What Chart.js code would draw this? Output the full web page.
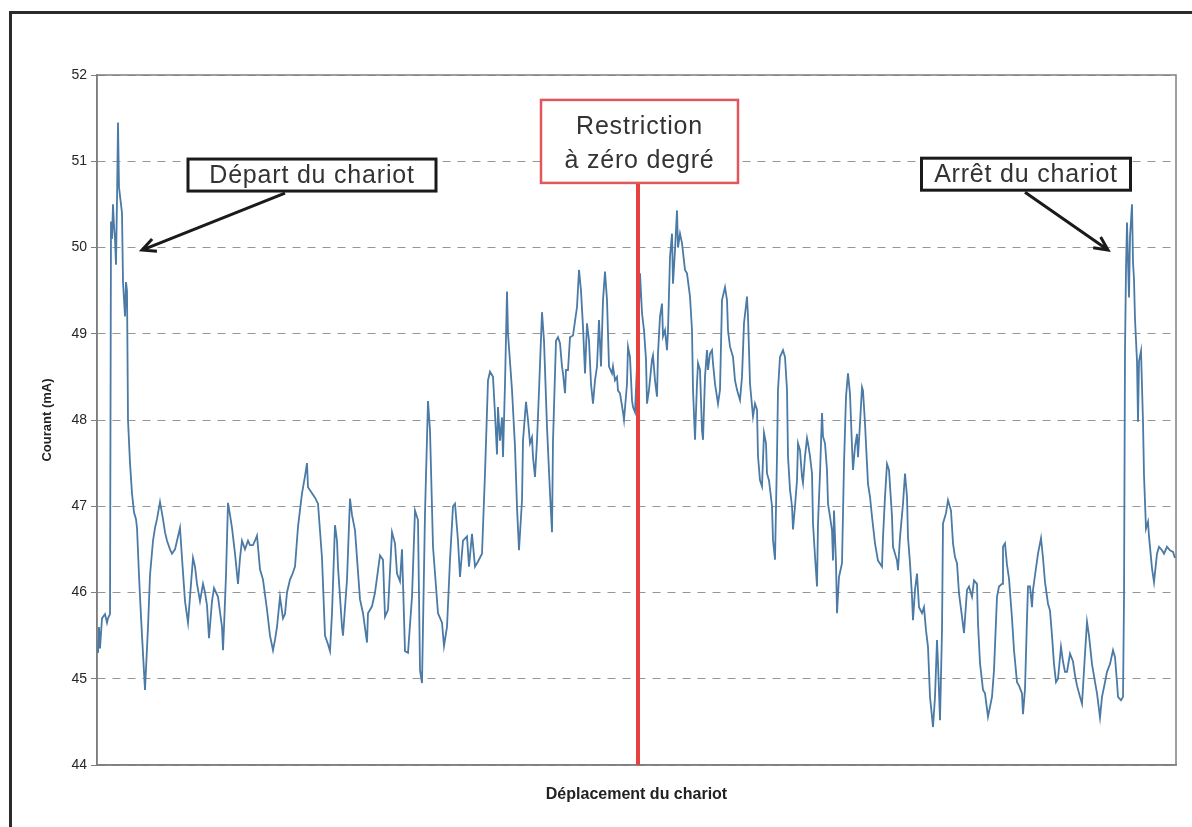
<!DOCTYPE html>
<html lang="fr">
<head>
<meta charset="utf-8">
<script src="https://cdn.jsdelivr.net/npm/chart.js@4/dist/chart.umd.min.js"></script>
<style>
  html, body { margin: 0; padding: 0; background: #fff; }
  #wrap { position: relative; width: 1192px; height: 827px; overflow: hidden; }
  #cadre { position: absolute; left: 9px; top: 11px; width: 1200px; height: 840px;
           border-top: 3px solid #2b2b2b; border-left: 3px solid #2b2b2b; }
  canvas { position: absolute; left: 0; top: 0; }
</style>
</head>
<body>
<div id="wrap">
  <div id="cadre"></div>
  <canvas id="chart" width="1192" height="827"></canvas>
</div>
<script>
// position du chariot (unités arbitraires) et courant mesuré (mA)
const deplacement = [
  1, 2, 3, 5, 8, 10, 11, 13, 14, 15, 16, 17, 18, 19, 20, 21, 22, 24, 25, 26,
  27, 28, 29, 30, 31, 33, 35, 37, 39, 40, 42, 43, 45, 48, 51, 53, 56, 58, 60, 63,
  66, 68, 70, 73, 75, 78, 80, 83, 85, 88, 91, 94, 96, 98, 100, 103, 106, 108, 110, 112,
  115, 117, 119, 121, 125, 126, 127, 129, 131, 133, 135, 138, 141, 143, 145, 148, 151, 153, 156, 158,
  160, 163, 166, 170, 173, 176, 178, 180, 183, 186, 188, 190, 193, 195, 198, 201, 205, 208, 210, 211,
  215, 218, 221, 225, 228, 231, 233, 235, 238, 240, 241, 245, 246, 250, 253, 255, 258, 263, 266, 270,
  271, 275, 278, 283, 286, 288, 291, 295, 298, 300, 303, 305, 308, 311, 315, 318, 321, 323, 325, 328,
  331, 333, 336, 341, 345, 347, 350, 353, 356, 358, 361, 363, 366, 370, 372, 375, 378, 381, 385, 388,
  391, 393, 396, 398, 400, 401, 403, 405, 406, 408, 410, 411, 415, 418, 420, 422, 425, 426, 429, 431,
  433, 435, 436, 438, 440, 442, 445, 447, 450, 453, 455, 456, 459, 461, 463, 465, 466, 468, 469, 471,
  473, 476, 480, 482, 484, 486, 488, 490, 492, 494, 496, 498, 500, 502, 504, 506, 508, 510, 512, 515,
  516, 518, 520, 521, 523, 526, 527, 530, 531, 533, 535, 536, 538, 541, 543, 545, 547, 549, 550, 552,
  555, 556, 558, 560, 561, 563, 565, 566, 568, 570, 571, 573, 575, 576, 578, 580, 581, 583, 585, 588,
  590, 593, 595, 596, 598, 600, 601, 603, 605, 606, 608, 610, 611, 613, 615, 616, 618, 621, 623, 625,
  628, 630, 631, 633, 636, 638, 640, 643, 645, 647, 650, 651, 653, 656, 658, 660, 661, 663, 665, 667,
  669, 670, 672, 675, 676, 678, 680, 681, 683, 686, 688, 690, 691, 693, 695, 696, 698, 700, 701, 703,
  705, 706, 708, 710, 711, 713, 715, 716, 718, 720, 721, 723, 725, 726, 728, 730, 731, 733, 735, 736,
  737, 739, 740, 742, 745, 747, 749, 751, 753, 755, 756, 758, 760, 761, 763, 765, 766, 768, 770, 771,
  773, 775, 778, 781, 785, 786, 788, 790, 792, 795, 796, 800, 801, 803, 806, 808, 810, 811, 813, 815,
  816, 818, 820, 822, 825, 827, 829, 831, 833, 835, 836, 838, 840, 841, 843, 845, 846, 849, 851, 854,
  856, 858, 860, 862, 865, 867, 870, 872, 875, 877, 880, 881, 883, 886, 888, 891, 895, 897, 900, 902,
  905, 906, 908, 910, 912, 915, 917, 920, 922, 925, 926, 928, 930, 931, 933, 935, 936, 938, 941, 944,
  946, 948, 951, 953, 955, 957, 959, 961, 964, 966, 968, 970, 973, 976, 978, 980, 983, 985, 988, 990,
  992, 995, 998, 1000, 1003, 1005, 1008, 1010, 1013, 1016, 1018, 1020, 1021, 1024, 1026, 1027, 1028, 1029, 1030, 1032,
  1033, 1035, 1036, 1037, 1038, 1040, 1041, 1042, 1044, 1046, 1047, 1049, 1051, 1052, 1055, 1057, 1060, 1062, 1065, 1067,
  1070, 1073, 1076, 1078
];
const courant = [
  45.3, 45.6, 45.35, 45.7, 45.75, 45.65, 45.7, 45.75, 50.3, 50.1, 50.5, 50.25, 50.1, 49.8, 50.55, 51.45, 50.7, 50.5, 50.4, 49.6,
  49.4, 49.2, 49.6, 49.5, 48.0, 47.5, 47.15, 46.93, 46.85, 46.75, 46.2, 45.95, 45.5, 44.87, 45.6, 46.2, 46.6, 46.75, 46.85, 47.05,
  46.85, 46.7, 46.6, 46.5, 46.45, 46.5, 46.6, 46.75, 46.4, 45.9, 45.65, 46.1, 46.4, 46.3, 46.1, 45.9, 46.1, 46.0, 45.85, 45.47,
  45.9, 46.05, 46.0, 45.95, 45.6, 45.33, 45.6, 46.2, 47.04, 46.9, 46.75, 46.45, 46.1, 46.4, 46.6, 46.5, 46.6, 46.55, 46.55, 46.6,
  46.66, 46.27, 46.15, 45.8, 45.5, 45.33, 45.45, 45.6, 45.95, 45.7, 45.75, 46.0, 46.15, 46.2, 46.3, 46.76, 47.15, 47.35, 47.5, 47.22,
  47.15, 47.1, 47.03, 46.4, 45.5, 45.4, 45.32, 45.76, 46.78, 46.6, 46.3, 45.6, 45.5, 46.15, 47.09, 46.9, 46.72, 45.92, 45.76, 45.42,
  45.76, 45.84, 46.0, 46.43, 46.38, 45.72, 45.8, 46.7, 46.57, 46.22, 46.13, 46.5, 45.32, 45.3, 45.95, 46.95, 46.84, 45.1, 44.95, 46.92,
  48.22, 47.88, 46.53, 45.76, 45.65, 45.38, 45.6, 46.38, 47.0, 47.03, 46.6, 46.18, 46.6, 46.65, 46.3, 46.68, 46.3, 46.36, 46.45, 47.38,
  48.46, 48.56, 48.5, 48.07, 47.6, 48.15, 47.76, 48.03, 47.57, 48.42, 49.49, 49.0, 48.35, 47.69, 46.99, 46.49, 47.07, 47.76, 48.21, 48.0,
  47.73, 47.8, 47.57, 47.34, 47.76, 48.34, 49.25, 48.92, 47.92, 47.15, 46.7, 47.76, 48.92, 48.96, 48.89, 48.62, 48.54, 48.31, 48.58, 48.58,
  48.96, 48.98, 49.31, 49.74, 49.5, 49.08, 48.54, 49.12, 48.92, 48.42, 48.19, 48.46, 48.62, 49.16, 48.62, 49.39, 49.72, 49.39, 48.62, 48.54,
  48.62, 48.46, 48.5, 48.34, 48.31, 48.09, 48.0, 48.42, 48.85, 48.73, 48.23, 48.15, 48.09, 48.9, 49.7, 49.24, 49.04, 48.7, 48.19, 48.35,
  48.7, 48.75, 48.46, 48.27, 48.77, 49.2, 49.35, 48.97, 49.04, 48.81, 49.04, 49.89, 50.16, 49.58, 49.97, 50.43, 50.0, 50.16, 50.05, 49.74,
  49.7, 49.43, 49.04, 48.35, 47.77, 48.42, 48.66, 48.58, 47.88, 47.77, 48.5, 48.81, 48.58, 48.77, 48.81, 48.66, 48.42, 48.19, 48.35, 49.39,
  49.54, 49.39, 49.04, 48.85, 48.73, 48.46, 48.35, 48.23, 48.5, 49.12, 49.43, 49.2, 48.42, 48.04, 48.19, 48.12, 47.58, 47.3, 47.23, 47.85,
  47.73, 47.38, 47.3, 47.0, 46.61, 46.38, 47.58, 48.35, 48.73, 48.81, 48.73, 48.35, 47.58, 47.19, 47.0, 46.73, 47.0, 47.3, 47.73, 47.65,
  47.34, 47.27, 47.58, 47.79, 47.73, 47.58, 47.38, 46.8, 46.42, 46.07, 46.8, 47.38, 48.08, 47.81, 47.73, 47.42, 47.03, 46.88, 46.72, 46.37,
  46.95, 46.34, 45.76, 46.18, 46.34, 47.49, 48.27, 48.54, 48.3, 47.69, 47.42, 47.69, 47.84, 47.57, 47.96, 48.38, 48.34, 47.96, 47.49, 47.26,
  47.11, 46.88, 46.57, 46.37, 46.3, 46.64, 47.11, 47.49, 47.42, 46.88, 46.53, 46.37, 46.26, 46.64, 47.03, 47.38, 47.11, 46.64, 46.34, 45.95,
  45.68, 46.03, 46.22, 45.83, 45.76, 45.83, 45.56, 45.37, 44.79, 44.56, 44.44, 44.79, 45.45, 45.18, 44.52, 45.56, 46.8, 46.92, 47.07, 46.95,
  46.57, 46.41, 46.34, 45.99, 45.72, 45.53, 46.03, 46.07, 45.95, 46.14, 46.1, 45.64, 45.18, 44.87, 44.83, 44.56, 44.79, 45.1, 45.95, 46.07,
  46.1, 46.53, 46.57, 46.32, 46.16, 45.7, 45.33, 44.96, 44.92, 44.83, 44.59, 44.88, 45.7, 46.07, 46.07, 45.83, 46.03, 46.2, 46.45, 46.63,
  46.4, 46.12, 45.87, 45.79, 45.5, 45.17, 44.96, 45.0, 45.37, 45.2, 45.08, 45.08, 45.29, 45.2, 45.04, 44.92, 44.79, 44.71, 45.29, 45.66,
  45.5, 45.17, 44.96, 44.83, 44.55, 44.79, 44.96, 45.08, 45.17, 45.33, 45.25, 44.96, 44.79, 44.75, 44.79, 45.91, 48.8, 49.75, 50.29, 49.42,
  50.12, 50.5, 49.83, 49.63, 49.17, 48.68, 47.98, 48.68, 48.8, 47.98, 47.36, 46.74, 46.82, 46.65, 46.28, 46.12, 46.45, 46.53, 46.49, 46.45,
  46.53, 46.49, 46.47, 46.4
];
const yTicks = [44, 45, 46, 47, 48, 49, 50, 51, 52];

// repère de la restriction et étiquettes fléchées (coordonnées dans les unités des axes)
const restriction = { position: 541, texte: ['Restriction', 'à zéro degré'], cx: 542.5, cy: 51.23, w: 197, h: 83 };
const etiquettes = [
  { texte: 'Départ du chariot', cx: 215, cy: 50.84, w: 248, h: 32, de: [188, 50.63], vers: [45, 49.97] },
  { texte: 'Arrêt du chariot', cx: 929, cy: 50.85, w: 209, h: 32, de: [928, 50.64], vers: [1011, 49.97] }
];

const police = '"Liberation Sans", Arial, sans-serif';

function fleche(ctx, x1, y1, x2, y2) {
  const a = Math.atan2(y2 - y1, x2 - x1);
  const l = 15;
  ctx.beginPath();
  ctx.moveTo(x1, y1);
  ctx.lineTo(x2, y2);
  ctx.moveTo(x2 - l * Math.cos(a - 0.45), y2 - l * Math.sin(a - 0.45));
  ctx.lineTo(x2, y2);
  ctx.lineTo(x2 - l * Math.cos(a + 0.45), y2 - l * Math.sin(a + 0.45));
  ctx.stroke();
}

const cadrePlot = {
  id: 'cadrePlot',
  beforeDatasetsDraw(chart) {
    const { ctx, chartArea: a } = chart;
    ctx.save();
    ctx.strokeStyle = '#7f7f7f';
    ctx.lineWidth = 1.5;
    ctx.strokeRect(a.left, a.top, a.right - a.left, a.bottom - a.top);
    ctx.restore();
  }
};

const annotations = {
  id: 'annotations',
  afterDatasetsDraw(chart) {
    const { ctx, scales: { x, y } } = chart;
    ctx.save();
    ctx.font = '25px ' + police;
    ctx.letterSpacing = '0.8px';
    ctx.textAlign = 'center';
    ctx.textBaseline = 'middle';

    // trait rouge de la restriction
    const rcx = x.getPixelForValue(restriction.cx);
    const rcy = y.getPixelForValue(restriction.cy);
    const rx = x.getPixelForValue(restriction.position);
    ctx.strokeStyle = '#e6403f';
    ctx.lineWidth = 4;
    ctx.beginPath();
    ctx.moveTo(rx, rcy + restriction.h / 2);
    ctx.lineTo(rx, y.getPixelForValue(44));
    ctx.stroke();

    ctx.fillStyle = '#fff';
    ctx.fillRect(rcx - restriction.w / 2, rcy - restriction.h / 2, restriction.w, restriction.h);
    ctx.strokeStyle = '#e0585c';
    ctx.lineWidth = 2.5;
    ctx.strokeRect(rcx - restriction.w / 2, rcy - restriction.h / 2, restriction.w, restriction.h);
    ctx.fillStyle = '#333';
    ctx.fillText(restriction.texte[0], rcx, rcy - 14);
    ctx.fillText(restriction.texte[1], rcx, rcy + 20);

    etiquettes.forEach(e => {
      const cx = x.getPixelForValue(e.cx);
      const cy = y.getPixelForValue(e.cy);
      ctx.fillStyle = '#fff';
      ctx.fillRect(cx - e.w / 2, cy - e.h / 2, e.w, e.h);
      ctx.strokeStyle = '#1a1a1a';
      ctx.lineWidth = 3;
      ctx.strokeRect(cx - e.w / 2, cy - e.h / 2, e.w, e.h);
      ctx.fillStyle = '#333';
      ctx.fillText(e.texte, cx, cy + 1);
      ctx.lineWidth = 3;
      fleche(ctx, x.getPixelForValue(e.de[0]), y.getPixelForValue(e.de[1]),
             x.getPixelForValue(e.vers[0]), y.getPixelForValue(e.vers[1]));
    });
    ctx.restore();
  }
};

const ctx = document.getElementById('chart').getContext('2d');
new Chart(ctx, {
  type: 'line',
  data: {
    datasets: [{
      data: deplacement.map((d, i) => ({ x: d, y: courant[i] })),
      borderColor: '#4a7aa5',
      borderWidth: 1.8,
      pointRadius: 0,
      tension: 0,
      fill: false
    }]
  },
  options: {
    responsive: false,
    animation: false,
    layout: { padding: { top: 75, right: 16, bottom: 0, left: 0 } },
    plugins: { legend: { display: false }, tooltip: { enabled: false } },
    scales: {
      x: {
        type: 'linear',
        min: 0,
        max: 1079,
        ticks: { display: false },
        grid: { display: false },
        border: { display: true, color: '#7f7f7f', width: 1.5 },
        title: {
          display: true,
          text: 'Déplacement du chariot',
          color: '#222',
          font: { family: police, size: 16, weight: 'bold' },
          padding: { top: 0, bottom: 23 }
        },
        afterFit: (scale) => { scale.height = 62; }
      },
      y: {
        min: 44,
        max: 52,
        afterBuildTicks: (scale) => { scale.ticks = yTicks.map(v => ({ value: v })); },
        ticks: {
          color: '#262626',
          padding: 4,
          font: { family: police, size: 14 }
        },
        grid: {
          color: '#969696',
          lineWidth: 1,
          tickLength: 6,
          tickColor: '#7f7f7f',
          tickBorderDash: []
        },
        border: { display: true, color: '#7f7f7f', width: 1.5, dash: [8, 7] },
        title: {
          display: true,
          text: 'Courant (mA)',
          color: '#222',
          font: { family: police, size: 13, weight: 'bold' },
          padding: { top: 40, bottom: 0 }
        },
        afterFit: (scale) => { scale.width = 97; }
      }
    }
  },
  plugins: [cadrePlot, annotations]
});
</script>
</body>
</html>
